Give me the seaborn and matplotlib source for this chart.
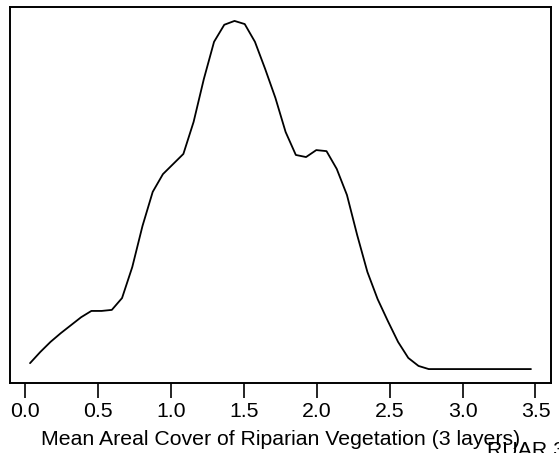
import numpy as np
import pandas as pd
import matplotlib
matplotlib.use("Agg")
import matplotlib.pyplot as plt
import seaborn as sns

# Density curve (x grid, relative density)
x_vals = [0.034 + 0.0701 * i for i in range(50)]
density = [0.017, 0.049, 0.078, 0.103, 0.126, 0.149, 0.167, 0.167, 0.170, 0.204,
           0.293, 0.411, 0.509, 0.560, 0.589, 0.618, 0.710, 0.833, 0.940, 0.989,
           1.000, 0.991, 0.940, 0.862, 0.779, 0.681, 0.615, 0.609, 0.629, 0.626,
           0.575, 0.500, 0.385, 0.279, 0.201, 0.138, 0.078, 0.032, 0.009, 0.0,
           0.0, 0.0, 0.0, 0.0, 0.0, 0.0, 0.0, 0.0, 0.0, 0.0]
x_ticks = [0.0, 0.5, 1.0, 1.5, 2.0, 2.5, 3.0, 3.5]
x_tick_labels = ["0.0", "0.5", "1.0", "1.5", "2.0", "2.5", "3.0", "3.5"]
x_label = "Mean Areal Cover of Riparian Vegetation (3 layers)"
corner_text = "RUAR 3"

df = pd.DataFrame({"x": x_vals, "density": density})

sns.set_style("white")
plt.rcParams["font.family"] = ["Liberation Sans", "DejaVu Sans"]
plt.rcParams["text.color"] = "black"
plt.rcParams["axes.labelcolor"] = "black"
plt.rcParams["xtick.color"] = "black"
plt.rcParams["xtick.labelcolor"] = "black"

fig = plt.figure(figsize=(5.59, 4.53), dpi=100)
ax = fig.add_axes([10 / 559, 70 / 453, 541 / 559, 376 / 453])

sns.lineplot(data=df, x="x", y="density", ax=ax, color="black", linewidth=1.3)

xr = max(x_vals) - min(x_vals)
ax.set_xlim(min(x_vals) - 0.04 * xr, max(x_vals) + 0.04 * xr)
yr = max(density) - min(density)
ax.set_ylim(min(density) - 0.04 * yr, max(density) + 0.04 * yr)

ax.set_xticks(x_ticks)
ax.set_xticklabels(x_tick_labels, fontsize=15.3, color="black")
ax.set_yticks([])
ax.set_xlabel(x_label, fontsize=15.3, labelpad=7, color="black")
ax.set_ylabel("")
ax.tick_params(axis="x", direction="out", length=10.5, width=1.2, color="black",
               labelcolor="black", bottom=True, pad=3)
for s in ax.spines.values():
    s.set_color("black")
    s.set_linewidth(1.4)
    s.set_visible(True)

fig.text(487 / 559, -3 / 453, corner_text, fontsize=15.3, ha="left",
         va="baseline", color="black")

fig.savefig("out.png", dpi=100)
